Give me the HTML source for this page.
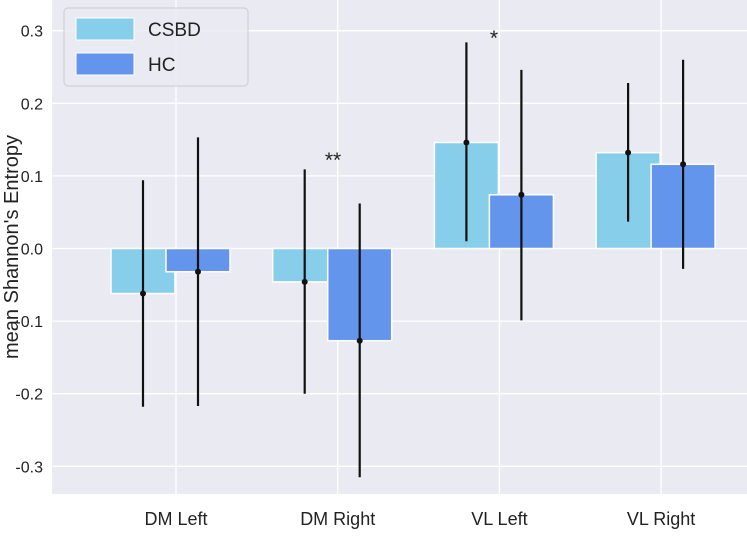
<!DOCTYPE html>
<html><head><meta charset="utf-8"><style>
body{margin:0;background:#fff;font-family:"Liberation Sans","DejaVu Sans",sans-serif}
</style></head><body>
<svg id="chart" width="747" height="532" xmlns="http://www.w3.org/2000/svg" font-family="Liberation Sans, DejaVu Sans, sans-serif">
<rect x="52" y="0" width="695" height="494" fill="#eaeaf2"/>
<g id="grid"></g><g id="bars"></g><g id="errs"></g><g id="axes"></g>
<text x="333" y="167" font-size="21" text-anchor="middle" fill="#222">**</text>
<text x="494" y="45" font-size="21" text-anchor="middle" fill="#222">*</text>
<text transform="translate(18,247) rotate(-90)" font-size="20" text-anchor="middle" fill="#222">mean Shannon's Entropy</text>
<g>
<rect x="64" y="8" width="184" height="78" rx="4" fill="#eaeaf2" fill-opacity="0.8" stroke="#ccc"/>
<rect x="76" y="18" width="58" height="22" fill="#87ceeb" stroke="#fff"/>
<text x="148" y="36" font-size="19" fill="#222">CSBD</text>
<rect x="76" y="53" width="58" height="22" fill="#6495ed" stroke="#fff"/>
<text x="148" y="71" font-size="19" fill="#222">HC</text>
</g>
</svg>
<script>
const categories=["DM Left","DM Right","VL Left","VL Right"];
const csbdValues=[-0.062,-0.046,0.146,0.132];
const hcValues=[-0.032,-0.127,0.074,0.116];
const csbdLow=[-0.218,-0.200,0.010,0.037];
const csbdHigh=[0.094,0.109,0.284,0.228];
const hcLow=[-0.217,-0.315,-0.099,-0.028];
const hcHigh=[0.153,0.062,0.246,0.260];
const yTicks=[0.3,0.2,0.1,0.0,-0.1,-0.2,-0.3];
const yTickLabels=["0.3","0.2","0.1","0.0","-0.1","-0.2","-0.3"];
const NS="http://www.w3.org/2000/svg";
const y=v=>248.5-v*726;
const xc=i=>176+i*161.7;
function mk(t,a,p){const e=document.createElementNS(NS,t);for(const k in a)e.setAttribute(k,a[k]);p.appendChild(e);return e;}
const grid=document.getElementById('grid'),bars=document.getElementById('bars'),errs=document.getElementById('errs'),axes=document.getElementById('axes');
yTicks.forEach((v,i)=>{
 const l=mk('line',{x1:52,x2:747,y1:y(v),y2:y(v),stroke:'#fff','stroke-width':1.3},grid);
 
 
 const t=mk('text',{x:43,y:y(v)+6,'font-size':16,'text-anchor':'end',fill:'#222'},axes);
 t.textContent=yTickLabels[i];
 
 
});
categories.forEach((c,i)=>{
 const g=mk('line',{x1:xc(i),x2:xc(i),y1:0,y2:494,stroke:'#fff','stroke-width':1.3},grid);
 
 
 const t=mk('text',{x:xc(i),y:525,'font-size':18,'text-anchor':'middle',fill:'#222'},axes);
 t.textContent=c;
 
 
 const series=[[csbdValues,csbdLow,csbdHigh,-65,'#87ceeb','csbd'],[hcValues,hcLow,hcHigh,-10,'#6495ed','hc']];
 series.forEach(s=>{
  const v=s[0][i],left=xc(i)+s[3],w=64,cx=left+w/2;
  const b=mk('rect',{x:left,y:Math.min(y(v),y(0)),width:w,height:Math.abs(y(v)-y(0)),fill:s[4],stroke:'#fff','stroke-width':1.5},bars);
  
  
  const e=mk('line',{x1:cx,x2:cx,y1:y(s[1][i]),y2:y(s[2][i]),stroke:'#111','stroke-width':2.2},errs);
  
  
  const d=mk('circle',{cx:cx,cy:y(v),r:3,fill:'#111'},errs);
  
  
 });
});
</script>
</body></html>
